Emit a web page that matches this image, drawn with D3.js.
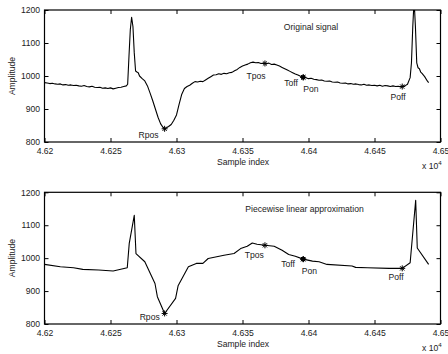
<!DOCTYPE html>
<html><head><meta charset="utf-8">
<script src="https://cdn.jsdelivr.net/npm/d3@7"></script>
<style>
html,body{margin:0;padding:0;background:#fff;}
svg{display:block;font-family:"Liberation Sans",Arial,Helvetica,sans-serif;}
</style></head>
<body>
<svg id="c" width="448" height="354"></svg>
<script>
// ---------- data ----------
const xTicks = [46200, 46250, 46300, 46350, 46400, 46450, 46500];
const xTickLabels = ["4.62", "4.625", "4.63", "4.635", "4.64", "4.645", "4.65"];
const yTicks = [800, 900, 1000, 1100, 1200];
const yTickLabels = ["800", "900", "1000", "1100", "1200"];

// original signal: sample index / amplitude
const origX = [46200,46202,46204,46206,46208,46210,46212,46214,46216,46218,46220,46222,46224,46226,46228,46230,46232,46234,46236,46238,46240,46242,46244,46246,46248,46250,46252,46254,46256,46258,46260,46262,
  46263,46264,46265,46266,46267,46268,46269,46270,46271,46272,46274,46276,46278,46280,46282,46284,46286,46288,46290,46291,46292,46294,46296,46298,46300,46302,46304,46306,46308,46310,46312,46314,46316,46318,46320,46322,46324,46326,46328,46330,46332,46334,46336,46338,46340,46342,46344,46346,46348,46350,46352,46354,46356,46358,46360,46362,46364,46366,46367,46368,46370,46372,46374,46376,46378,46380,46382,46384,46386,46388,46390,46392,46394,46396,46398,46400,46402,46404,46406,46408,46410,46412,46414,46416,46418,46420,46422,46424,46426,46428,46430,46432,46434,46436,46438,46440,46442,46444,46446,46448,46450,46452,46454,46456,46458,46460,46462,46464,46466,46468,46470,46471,46473,46475,46477,46478,46479,46480,46481,46482,46483,46484,46485,46486,46488,46490,46491];
const origY = [980,979,977,978,976,975,976,973,974,972,973,971,972,970,969,971,968,967,969,966,965,966,963,964,962,964,961,963,965,966,968,970,
  975,1060,1140,1178,1150,1070,1015,1012,1010,1000,992,985,970,948,925,900,875,855,843,840,842,847,853,866,882,915,945,962,968,972,978,983,982,984,983,988,993,998,1003,1004,1007,1005,1008,1007,1010,1011,1016,1020,1026,1030,1033,1036,1040,1042,1040,1041,1038,1039,1038,1037,1039,1035,1036,1033,1030,1026,1022,1018,1014,1010,1006,1003,999,996,995,992,993,990,989,987,988,985,984,985,982,981,982,979,978,979,976,977,975,976,974,973,975,972,973,971,972,970,972,969,971,970,968,970,968,969,967,968,970,975,995,1040,1150,1230,1150,1040,1025,1022,1012,1008,998,985,980];

// piecewise linear approximation vertices
const pwlX = [46200,46212,46222,46229,46241,46252,46262.7,46264.2,46268,46269.3,46276,46283.7,46285.5,46291,46299.3,46301.2,46309,46315,46320,46324,46336,46343.6,46348.6,46353.6,46357.4,46361,46367,46374,46380,46385,46390,46396,46403,46408,46414,46433,46435.7,46444.5,46461,46471,46477,46481.2,46482.4,46491];
const pwlY = [981,974,971,966,964,961,971,1045,1130,1014,989,923,883,832,878,916,974,984,984,999,1009,1014,1029,1036,1046,1042,1039,1036,1024,1011,1006,997,991,989,981,976,972,971,969,969,986,1176,1031,981];

// fiducial points
const fidNames = ["Rpos", "Tpos", "Toff", "Pon", "Poff"];
const origFidX = [46291, 46367, 46396, 46396, 46471];
const origFidY = [840, 1038, 996, 996, 968];
const pwlFidX = [46291, 46367, 46396, 46396, 46471];
const pwlFidY = [832, 1039, 997, 997, 969];

// ---------- drawing ----------
const svg = d3.select("#c");
const left = 44.5, right = 440.5;
const panels = [
  {top: 10, bottom: 142, xs: origX, ys: origY, fx: origFidX, fy: origFidY,
   title: "Original signal", titleX: 311, titleY: 26.7,
   lab: [[148.5,135],[256,76],[291,82.7],[311,89.3],[398,96.7]]},
  {top: 192.3, bottom: 324, xs: pwlX, ys: pwlY, fx: pwlFidX, fy: pwlFidY,
   title: "Piecewise linear approximation", titleX: 304.5, titleY: 209,
   lab: [[149.7,316.7],[254.3,255],[288,264],[309.5,270.7],[396,277.3]]}
];
const FS = 8.6;

panels.forEach((p, pi) => {
  const x = d3.scaleLinear().domain([46200, 46500]).range([left, right]);
  const y = d3.scaleLinear().domain([800, 1200]).range([p.bottom, p.top]);
  const g = svg.append("g");

  const clipId = "clip" + pi;
  svg.append("clipPath").attr("id", clipId).append("rect")
    .attr("x", left).attr("y", p.top).attr("width", right - left).attr("height", p.bottom - p.top);

  // axes
  const ax = g.append("g").attr("transform", `translate(0,${p.bottom})`)
    .call(d3.axisBottom(x).tickValues(xTicks).tickSize(-4).tickPadding(6)
      .tickFormat((d, i) => xTickLabels[i]));
  const axT = g.append("g").attr("transform", `translate(0,${p.top})`)
    .call(d3.axisTop(x).tickValues(xTicks).tickSize(-4).tickFormat(""));
  const ay = g.append("g").attr("transform", `translate(${left},0)`)
    .call(d3.axisLeft(y).tickValues(yTicks).tickSize(-4).tickPadding(4.5)
      .tickFormat((d, i) => yTickLabels[i]));
  const ayR = g.append("g").attr("transform", `translate(${right},0)`)
    .call(d3.axisRight(y).tickValues(yTicks).tickSize(-4).tickFormat(""));
  [ax, axT, ay, ayR].forEach(a => {
    a.select(".domain").remove();
    a.selectAll("line").attr("stroke", "#000").attr("stroke-width", 1);
    a.selectAll("text").attr("font-size", FS).attr("fill", "#222")
      .attr("font-family", "Liberation Sans, Arial, sans-serif");
  });

  // frame
  g.append("rect").attr("x", left).attr("y", p.top)
    .attr("width", right - left).attr("height", p.bottom - p.top)
    .attr("fill", "none").attr("stroke", "#000").attr("stroke-width", 1.2);

  // signal
  const line = d3.line().x((d, i) => x(p.xs[i])).y((d, i) => y(p.ys[i]));
  g.append("path").datum(p.ys).attr("d", line)
    .attr("clip-path", `url(#${clipId})`)
    .attr("fill", "none").attr("stroke", "#000").attr("stroke-width", 1.1)
    .attr("stroke-linejoin", "round");

  // markers
  p.fx.forEach((fx, i) => {
    const cx = x(fx), cy = y(p.fy[i]);
    const s = 3;
    const m = g.append("g").attr("stroke", "#000").attr("stroke-width", 1);
    m.append("line").attr("x1", cx - s).attr("x2", cx + s).attr("y1", cy).attr("y2", cy);
    m.append("line").attr("x1", cx).attr("x2", cx).attr("y1", cy - s).attr("y2", cy + s);
    m.append("line").attr("x1", cx - s * 0.7).attr("x2", cx + s * 0.7).attr("y1", cy - s * 0.7).attr("y2", cy + s * 0.7);
    m.append("line").attr("x1", cx - s * 0.7).attr("x2", cx + s * 0.7).attr("y1", cy + s * 0.7).attr("y2", cy - s * 0.7);
    if (fidNames[i] === "Toff") {
      g.append("circle").attr("cx", cx).attr("cy", cy).attr("r", 2.3).attr("fill", "#000");
    }
  });

  // labels
  fidNames.forEach((n, i) => {
    g.append("text").attr("x", p.lab[i][0]).attr("y", p.lab[i][1]).attr("dy", "0.35em")
      .attr("text-anchor", "middle").attr("font-size", FS).attr("fill", "#222").text(n);
  });
  g.append("text").attr("x", p.titleX).attr("y", p.titleY).attr("dy", "0.35em")
    .attr("text-anchor", "middle").attr("font-size", FS).attr("fill", "#222").text(p.title);

  // axis titles
  g.append("text").attr("x", 243).attr("y", p.bottom + 19.5).attr("dy", "0.35em")
    .attr("text-anchor", "middle").attr("font-size", FS).attr("fill", "#222").text("Sample index");
  const ex = g.append("text").attr("x", 422).attr("y", p.bottom + 23.5).attr("dy", "0.35em")
    .attr("font-size", FS).attr("fill", "#222");
  ex.append("tspan").text("x 10");
  ex.append("tspan").attr("dy", "-0.55em").attr("font-size", 6.2).text("4");
  g.append("text")
    .attr("transform", `translate(12,${(p.top + p.bottom) / 2}) rotate(-90)`)
    .attr("dy", "0.35em").attr("text-anchor", "middle").attr("font-size", FS)
    .attr("fill", "#222").text("Amplitude");
});
</script>
</body></html>
